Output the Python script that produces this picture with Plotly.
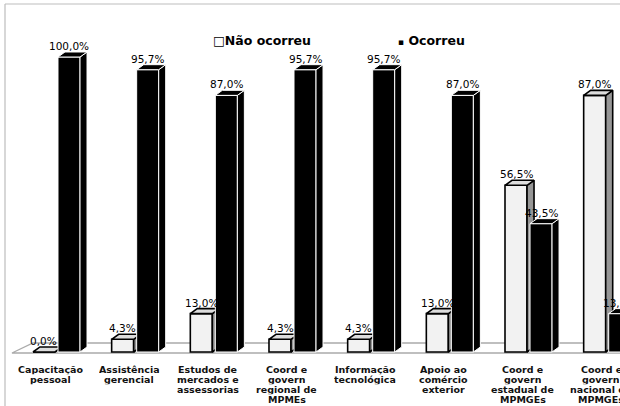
import plotly.graph_objects as go

# Categories (line breaks as drawn under each pair of columns)
categories = [
    "Capacitação<br>pessoal",
    "Assistência<br>gerencial",
    "Estudos de<br>mercados e<br>assessorias",
    "Coord e<br>govern<br>regional de<br>MPMEs",
    "Informação<br>tecnológica",
    "Apoio ao<br>comércio<br>exterior",
    "Coord e<br>govern<br>estadual de<br>MPMGEs",
    "Coord e<br>govern<br>nacional de<br>MPMGEs",
]
nao_ocorreu = [0.0, 4.3, 13.0, 4.3, 4.3, 13.0, 56.5, 87.0]
ocorreu = [100.0, 95.7, 87.0, 95.7, 95.7, 87.0, 43.5, 13.0]
series_names = ["Não ocorreu", "Ocorreu"]

FONT = "DejaVu Sans"
BAR_W = 0.28            # width of each column front
OFFSETS = [-0.299, 0.019]  # left edge of each series' column, relative to category
DX, DY = 0.089, 1.7     # oblique depth of the columns (x units, y units)
X_RANGE = [-0.6546, 7.1628]
Y_RANGE = [-18.31, 117.97]

x_pos = list(range(len(categories)))


def fmt(v):
    return f"{v:.1f}".replace(".", ",") + "%"


def depth_faces(values, offset):
    """Side and top faces of oblique columns, built from the values."""
    sx, sy, tx, ty = [], [], [], []
    for xi, v in zip(x_pos, values):
        x0 = xi + offset
        x1 = x0 + BAR_W
        sx += [x1, x1 + DX, x1 + DX, x1, x1, None]
        sy += [0, DY, v + DY, v, 0, None]
        tx += [x0, x0 + DX, x1 + DX, x1, x0, None]
        ty += [v, v + DY, v + DY, v, v, None]
    return sx, sy, tx, ty


styles = [
    dict(front="#F2F2F2", side="#969696", top="#DDDDDD", edge="#000000", ew=1.6),
    dict(front="#000000", side="#000000", top="#000000", edge="#FFFFFF", ew=1.0),
]

fig = go.Figure()
axes = [("x", "y"), ("x2", "y2")]
for (name, values, offset, st, (xa, ya)) in zip(
        series_names, [nao_ocorreu, ocorreu], OFFSETS, styles, axes):
    fig.add_trace(go.Bar(
        x=x_pos, y=values, width=BAR_W, offset=offset, name=name,
        marker=dict(color=st["front"], line=dict(color=st["edge"], width=st["ew"])),
        xaxis=xa, yaxis=ya, showlegend=False, hoverinfo="skip",
    ))
    sx, sy, tx, ty = depth_faces(values, offset)
    fig.add_trace(go.Scatter(
        x=sx, y=sy, mode="lines", fill="toself", fillcolor=st["side"],
        line=dict(color=st["edge"], width=st["ew"]),
        xaxis=xa, yaxis=ya, showlegend=False, hoverinfo="skip",
    ))
    fig.add_trace(go.Scatter(
        x=tx, y=ty, mode="lines", fill="toself", fillcolor=st["top"],
        line=dict(color=st["edge"], width=st["ew"]),
        xaxis=xa, yaxis=ya, showlegend=False, hoverinfo="skip",
    ))

annotations = []
# value labels above each column
for values, offset in zip([nao_ocorreu, ocorreu], OFFSETS):
    for xi, v in zip(x_pos, values):
        annotations.append(dict(
            x=xi + offset + BAR_W / 2, y=v, xref="x", yref="y",
            text=fmt(v), showarrow=False, yshift=11, yanchor="middle",
            font=dict(family=FONT, size=10.5, color="#000000"),
        ))

# category labels, one annotation per line for tight line spacing
LINE_STEP = 10.3
for xi, cat in zip(x_pos, categories):
    for k, line in enumerate(cat.split("<br>")):
        annotations.append(dict(
            x=xi, y=0, xref="x", yref="y", text=line, showarrow=False,
            xshift=-6, yshift=-16.6 - LINE_STEP * k, yanchor="middle",
            height=LINE_STEP, borderpad=0,
            font=dict(family=FONT, size=9.5, color="#111111", weight="bold"),
        ))

# legend
annotations.append(dict(
    x=0.335, y=0.908, xref="paper", yref="paper", xanchor="left", yanchor="middle",
    text="□" + series_names[0], showarrow=False,
    font=dict(family=FONT, size=12.5, color="#000000", weight="bold"),
))
annotations.append(dict(
    x=0.636, y=0.908, xref="paper", yref="paper", xanchor="left", yanchor="middle",
    text="<span style='font-size:9px'>▪</span> " + series_names[1], showarrow=False,
    font=dict(family=FONT, size=12.5, color="#000000", weight="bold"),
))

# floor of the chart, drawn beneath the columns
fx0, fx1 = -0.566, -0.299
fy0, fy1 = -0.34, 3.05
floor_path = (f"M {fx0},{fy0} L {fx1},{fy1} L {X_RANGE[1] + 1},{fy1} "
              f"L {X_RANGE[1] + 1},{fy0} Z")
shapes = [
    dict(type="path", path=floor_path, xref="x", yref="y", layer="below",
         fillcolor="#FFFFFF", line=dict(color="#ABABAB", width=1.3)),
    # chart border (top and left edges)
    dict(type="line", xref="paper", yref="paper", x0=0, x1=1, y0=1, y1=1,
         line=dict(color="#BDBDBD", width=1.2)),
    dict(type="line", xref="paper", yref="paper", x0=0, x1=0, y0=0, y1=1,
         line=dict(color="#BDBDBD", width=1.2)),
]

axis_common = dict(visible=False, fixedrange=True)
fig.update_layout(
    width=620, height=406,
    margin=dict(l=5, r=0, t=4, b=0),
    paper_bgcolor="#FFFFFF", plot_bgcolor="#FFFFFF",
    barmode="overlay",
    xaxis=dict(range=X_RANGE, **axis_common),
    yaxis=dict(range=Y_RANGE, **axis_common),
    xaxis2=dict(range=X_RANGE, overlaying="x", **axis_common),
    yaxis2=dict(range=Y_RANGE, overlaying="y", **axis_common),
    annotations=annotations,
    shapes=shapes,
    showlegend=False,
)

fig.write_html("out.html")
